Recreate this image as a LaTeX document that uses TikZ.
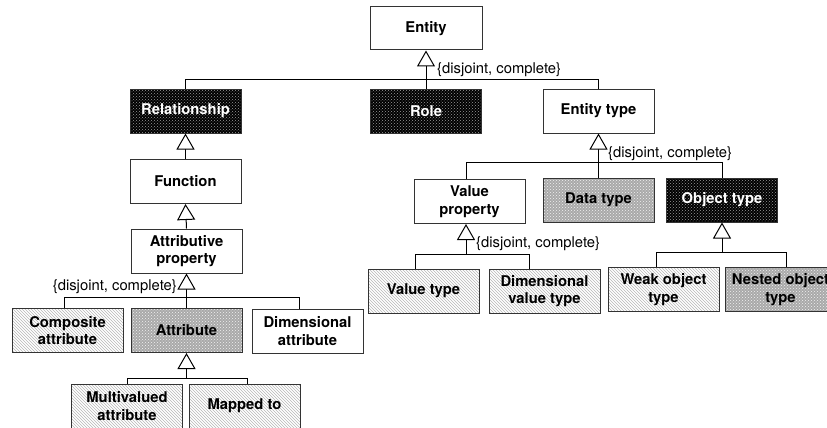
\documentclass[tikz,border=0pt]{standalone}
\usepackage{fontspec}
\setmainfont{TeX Gyre Heros}
\usetikzlibrary{arrows.meta,patterns}
\definecolor{umlBorder}{HTML}{333333}
\definecolor{umlGray}{HTML}{A9A9A9}
\definecolor{umlHatch}{HTML}{B8B8B8}
\definecolor{umlDot}{HTML}{9A9A9A}

\begin{document}
\begin{tikzpicture}[
  x=1pt, y=-1pt,
  font=\fontsize{14.8}{17.5}\selectfont,
  line cap=butt, line join=miter,
  plain box/.style={draw=umlBorder, line width=1pt, fill=white,
    minimum width=111pt, minimum height=44pt, inner sep=2pt,
    align=center, font=\fontsize{14.8}{17.5}\selectfont\bfseries},
  dark box/.style={plain box, preaction={fill=black},
    pattern=crosshatch dots, pattern color=umlDot, text=white},
  gray box/.style={plain box, preaction={fill=umlGray},
    pattern=crosshatch dots, pattern color=white!85!umlGray},
  hatch box/.style={plain box, preaction={fill=white},
    pattern=north west lines, pattern color=umlHatch},
  gen link/.style={draw=black, line width=1pt,
    -{Triangle[length=16pt, width=18pt, fill=white, line width=1pt]}},
  bus link/.style={draw=black, line width=1pt},
  constraint/.style={inner sep=1pt}
]
\useasboundingbox (0,0) rectangle (827,428);

% Top level: Entity and its three subtypes
\node[plain box, minimum width=112pt, minimum height=43pt] (entity) at (426,28.5) {Entity};
\node[dark box] (relationship) at (185.5,111) {Relationship};
\node[dark box] (role) at (426,111) {Role};
\node[plain box] (enttype) at (598.5,111) {Entity type};

\coordinate (entbus) at (426,79);
\draw[gen link] (entbus) -- (entity.south);
\draw[bus link] (relationship.north) |- (entbus);
\draw[bus link] (role.north) -- (entbus);
\draw[bus link] (enttype.north) |- (entbus);
\node[constraint, anchor=west] at (436,70) {\{disjoint, complete\}};

% Left branch: Relationship down to attributes
\node[plain box] (function) at (185.5,181.5) {Function};
\node[plain box] (attrprop) at (186.5,251) {Attributive\\property};
\draw[gen link] (function.north) -- (relationship.south);
\draw[gen link] (attrprop.north) -- (function.south);

\node[hatch box] (composite) at (67.5,330.5) {Composite\\attribute};
\node[gray box] (attribute) at (186.5,330.5) {Attribute};
\node[plain box] (dimattr) at (307.5,331) {Dimensional\\attribute};

\coordinate (attrbus) at (186.5,297);
\draw[gen link] (attrbus) -- (attrprop.south);
\draw[bus link] ([xshift=-3pt]composite.north) |- (attrbus);
\draw[bus link] (attribute.north) -- (attrbus);
\draw[bus link] ([xshift=-8.5pt]dimattr.north) |- (attrbus);
\node[constraint, anchor=east] at (178,287) {\{disjoint, complete\}};

\node[hatch box] (multival) at (127,406) {Multivalued\\attribute};
\node[hatch box] (mappedto) at (244.5,406) {Mapped to};

\coordinate (attbus) at (186.5,378);
\draw[gen link] (attbus) -- (attribute.south);
\draw[bus link] (multival.north) |- (attbus);
\draw[bus link] ([xshift=2.5pt]mappedto.north) |- (attbus);

% Right branch: Entity type and its subtypes
\node[plain box] (valprop) at (469.5,201.5) {Value\\property};
\node[gray box] (datatype) at (598.5,200) {Data type};
\node[dark box] (objtype) at (722,200) {Object type};

\coordinate (typebus) at (598.5,162);
\draw[gen link] (typebus) -- (enttype.south);
\draw[bus link] ([xshift=-3.5pt]valprop.north) |- (typebus);
\draw[bus link] (datatype.north) -- (typebus);
\draw[bus link] (objtype.north) |- (typebus);
\node[constraint, anchor=west] at (607,154) {\{disjoint, complete\}};

\node[hatch box] (valtype) at (423.5,291) {Value type};
\node[hatch box] (dimval) at (544.5,291) {Dimensional\\value type};

\coordinate (valbus) at (466,254);
\draw[gen link] (valbus) -- ([xshift=-3.5pt]valprop.south);
\draw[bus link] ([xshift=-8.5pt]valtype.north) |- (valbus);
\draw[bus link] ([xshift=-15.5pt]dimval.north) |- (valbus);
\node[constraint, anchor=west] at (475,244) {\{disjoint, complete\}};

\node[hatch box] (weakobj) at (663.5,289.5) {Weak object\\type};
\node[gray box] (nested) at (780.5,289.5) {Nested object\\type};

\coordinate (objbus) at (722,252);
\draw[gen link] (objbus) -- (objtype.south);
\draw[bus link] ([xshift=-7.5pt]weakobj.north) |- (objbus);
\draw[bus link] ([xshift=5.5pt]nested.north) |- (objbus);
\end{tikzpicture}
\end{document}
